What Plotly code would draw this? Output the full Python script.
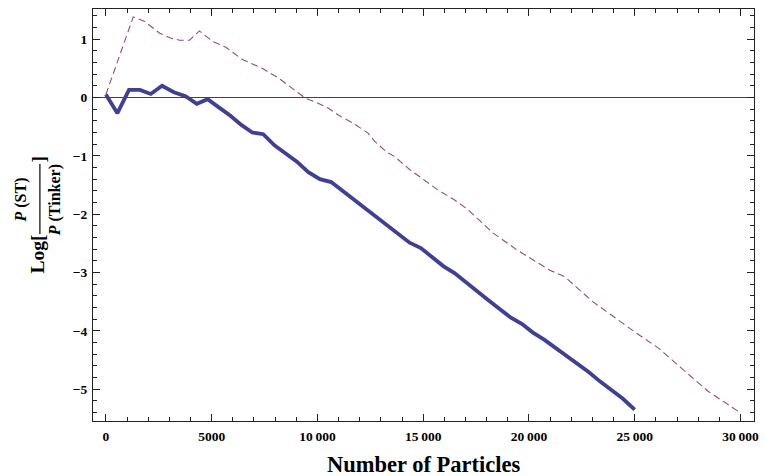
import plotly.graph_objects as go

# Solid curve: log ratio P(ST)/P(Tinker), first data set
st_n = [0, 545, 1092, 1608, 2124, 2654, 3217, 3765, 4296, 4812, 5340, 5875, 6405,
        6920, 7440, 7970, 8500, 9030, 9570, 10120, 10650, 11180, 11710, 12240,
        12770, 13300, 13830, 14360, 14890, 15420, 15950, 16480, 17010, 17540,
        18070, 18600, 19130, 19660, 20190, 20720, 21250, 21780, 22310, 22840,
        23370, 23900, 24430, 25000]
st_log = [0.05, -0.27, 0.13, 0.13, 0.06, 0.20, 0.09, 0.02, -0.11, -0.03, -0.17, -0.31,
          -0.47, -0.60, -0.63, -0.82, -0.96, -1.10, -1.28, -1.40, -1.45, -1.60, -1.74,
          -1.88, -2.05, -2.18, -2.34, -2.49, -2.58, -2.74, -2.89, -3.01, -3.17, -3.33,
          -3.47, -3.62, -3.77, -3.88, -4.03, -4.15, -4.29, -4.42, -4.56, -4.71, -4.87,
          -5.01, -5.16, -5.35]

# Dashed curve: second data set
alt_n = [0, 650, 1295, 1843, 2545, 3050, 3483, 3952, 4421, 5047, 5672, 6453, 7390,
         8172, 8875, 9422, 9969, 10500, 10984, 11688, 12391, 12703, 13250, 13640,
         14346, 14815, 15672, 16455, 17079, 17700, 18330, 19423, 20984, 21687,
         23016, 25048, 26141, 27300, 28486, 29110, 30016]
alt_log = [0.05, 0.71, 1.38, 1.30, 1.10, 1.02, 0.98, 0.98, 1.14, 0.96, 0.86, 0.65,
           0.50, 0.33, 0.13, -0.01, -0.09, -0.18, -0.30, -0.44, -0.61, -0.75, -0.93,
           -1.01, -1.23, -1.35, -1.58, -1.75, -1.91, -2.12, -2.33, -2.61, -2.96, -3.07,
           -3.50, -4.03, -4.30, -4.67, -5.04, -5.19, -5.41]

x_ticks = [0, 5000, 10000, 15000, 20000, 25000, 30000]
x_tick_text = ["0", "5000", "10\u2009000", "15\u2009000", "20\u2009000", "25\u2009000", "30\u2009000"]
y_ticks = [-5, -4, -3, -2, -1, 0, 1]
y_tick_text = ["\u22125", "\u22124", "\u22123", "\u22122", "\u22121", "0", "1"]

SERIF = "Liberation Serif"
W, H = 765, 476
L, R, T, B = 93, 6, 9, 55
PW, PH = W - L - R, H - T - B


def px(xp):
    return (xp - L) / PW


def py(yp):
    return (H - B - yp) / PH


fig = go.Figure()
fig.add_trace(go.Scatter(x=alt_n, y=alt_log, mode="lines",
                         line=dict(color="#9b4a79", width=1.1, dash="7px,4px"),
                         hoverinfo="skip"))
fig.add_trace(go.Scatter(x=st_n, y=st_log, mode="lines",
                         line=dict(color="#3f3f9a", width=3.8),
                         hoverinfo="skip"))

axis_common = dict(showline=True, linecolor="#222", linewidth=1, mirror="allticks",
                   ticks="inside", ticklen=7, tickcolor="#222", tickwidth=1,
                   showgrid=False,
                   tickfont=dict(family=SERIF, size=13.5, color="black", weight="bold"))

fig.update_xaxes(range=[-609, 30640], tickmode="array", tickvals=x_ticks,
                 ticktext=x_tick_text, zeroline=False, ticklabelstandoff=3,
                 minor=dict(tickmode="linear", tick0=0, dtick=1000, ticks="inside",
                            ticklen=4, tickcolor="#222", tickwidth=1),
                 **axis_common)
fig.update_yaxes(range=[-5.545, 1.516], tickmode="array", tickvals=y_ticks,
                 ticktext=y_tick_text, zeroline=True, zerolinecolor="#444",
                 zerolinewidth=1, ticklabelstandoff=2,
                 minor=dict(tickmode="linear", tick0=0, dtick=0.2, ticks="inside",
                            ticklen=4, tickcolor="#222", tickwidth=1),
                 **axis_common)

ann = []
# x-axis title
ann.append(dict(text="<b>Number of Particles</b>", xref="paper", yref="paper",
                x=px(426), y=py(464), showarrow=False, xanchor="center", yanchor="middle",
                font=dict(family=SERIF, size=22.5, color="black")))
# y-axis label: Log[ P (ST) / P (Tinker) ]
lab_font = dict(family=SERIF, size=19.5, color="black")
ann.append(dict(text="<b>Log[</b>", xref="paper", yref="paper", x=px(37), y=py(254),
                textangle=-90, showarrow=False, xanchor="center", yanchor="middle",
                font=lab_font))
ann.append(dict(text="<b><i>P</i> (ST)</b>", xref="paper", yref="paper", x=px(20), y=py(200),
                textangle=-90, showarrow=False, xanchor="center", yanchor="middle",
                font=dict(family=SERIF, size=16, color="black")))
ann.append(dict(text="<b><i>P</i> (Tinker)</b>", xref="paper", yref="paper", x=px(55), y=py(200),
                textangle=-90, showarrow=False, xanchor="center", yanchor="middle",
                font=dict(family=SERIF, size=16, color="black")))
ann.append(dict(text="<b>]</b>", xref="paper", yref="paper", x=px(39), y=py(159),
                textangle=-90, showarrow=False, xanchor="center", yanchor="middle",
                font=lab_font))

shapes = [dict(type="line", xref="paper", yref="paper", x0=px(39.5), x1=px(39.5),
               y0=py(164), y1=py(234), line=dict(color="black", width=1.2))]

fig.update_layout(width=W, height=H, margin=dict(l=L, r=R, t=T, b=B),
                  paper_bgcolor="white", plot_bgcolor="white", showlegend=False,
                  annotations=ann, shapes=shapes)

fig.write_html("out.html")
